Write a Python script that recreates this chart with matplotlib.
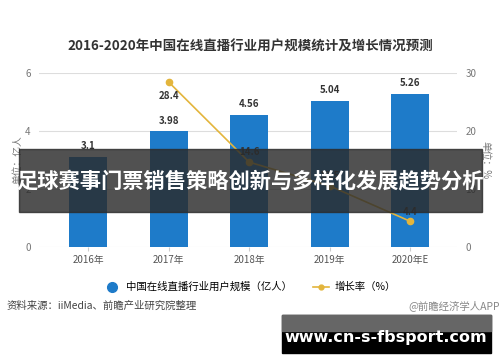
import matplotlib.pyplot as plt
from matplotlib.patches import Rectangle
from matplotlib.lines import Line2D

plt.rcParams['font.family'] = ['Noto Sans CJK SC', 'DejaVu Sans']

years = ['2016年', '2017年', '2018年', '2019年', '2020年E']
users = [3.1, 3.98, 4.56, 5.04, 5.26]          # 亿人
growth = [None, 28.4, 14.6, 10.5, 4.4]          # %

blue = '#1E7BC9'
gold = '#E3B53C'
grey = '#777777'

fig = plt.figure(figsize=(5, 3.62), dpi=100)
ax = fig.add_axes([0.078, 0.318, 0.836, 0.481])
ax2 = ax.twinx()

x = list(range(len(years)))
ax.bar(x, users, width=0.47, color=blue, zorder=3)
for xi, v in zip(x, users):
    ax.text(xi, v + 0.2, f'{v:g}', ha='center', va='bottom', fontsize=7,
            fontweight='bold', color='#333333', zorder=5)

gx = [xi for xi, g in zip(x, growth) if g is not None]
gy = [g for g in growth if g is not None]
ax2.plot(gx, gy, color=gold, lw=1.2, marker='o', ms=4.5, zorder=4)
for i, (xi, g) in enumerate(zip(gx, gy)):
    dy = -10 if i == 0 else 7
    ax2.annotate(f'{g:g}', (xi, g), xytext=(0, dy), textcoords='offset points',
                 ha='center', va='center', fontsize=7, fontweight='bold',
                 color='#333333', zorder=5)

ax.set_xlim(-0.61, 4.58)
ax.set_ylim(0, 6)
ax2.set_ylim(0, 30)
ax.set_yticks([0, 2, 4, 6])
ax2.set_yticks([0, 10, 20, 30])
ax.set_xticks(x)
ax.set_xticklabels(years)
ax.grid(axis='y', color='#dddddd', lw=0.8, zorder=0)
ax.set_axisbelow(True)
for a in (ax, ax2):
    for s in a.spines.values():
        s.set_visible(False)
    a.tick_params(axis='y', length=0, labelsize=7, labelcolor=grey, pad=6)
ax.tick_params(axis='x', length=3, color='#cccccc', labelsize=7, labelcolor='#555555', pad=3)
ax.set_ylabel('单位：亿人', fontsize=7, color=grey, labelpad=2)
ax2.set_ylabel('单位：%', fontsize=7, color=grey, rotation=270, labelpad=10)

fig.text(0.5, 0.87, '2016-2020年中国在线直播行业用户规模统计及增长情况预测',
         ha='center', va='center', fontsize=9.7, fontweight='bold', color='#333333')

# legend
h1 = Line2D([], [], marker='o', ls='', color=blue, ms=7)
h2 = Line2D([], [], marker='o', color=gold, ms=3.5, lw=1.2)
fig.legend([h1, h2], ['中国在线直播行业用户规模（亿人）', '增长率（%）'],
           loc='center', bbox_to_anchor=(0.5, 0.207), ncol=2, frameon=False,
           fontsize=7.5, handlelength=1.6, columnspacing=2.0, handletextpad=0.5)

fig.text(0.014, 0.155, '资料来源：iiMedia、前瞻产业研究院整理', ha='left', va='center',
         fontsize=7.5, color='#444444')
fig.text(1.0, 0.155, '@前瞻经济学人APP', ha='right', va='center',
         fontsize=7.5, color='#888888')

# overlay banner
fig.patches.append(Rectangle((0.038, 0.414), 0.926, 0.174, transform=fig.transFigure,
                             color='#2b2b2b', alpha=0.82, zorder=10))
fig.text(0.5, 0.501, '足球赛事门票销售策略创新与多样化发展趋势分析', ha='center', va='center',
         fontsize=15.3, fontweight='bold', color='white', zorder=11)

# bottom site banner
fig.patches.append(Rectangle((0.564, 0.025), 0.418, 0.105, transform=fig.transFigure,
                             color='black', zorder=10))
fig.patches.append(Rectangle((0.564, 0.085), 0.418, 0.045, transform=fig.transFigure,
                             color='#666666', zorder=10))
fig.text(0.771, 0.069, 'www.cn-s-fbsport.com', ha='center', va='center',
         fontsize=11.5, fontweight='bold', color='white', family='DejaVu Sans', zorder=11)

fig.savefig('out.png', dpi=100)
